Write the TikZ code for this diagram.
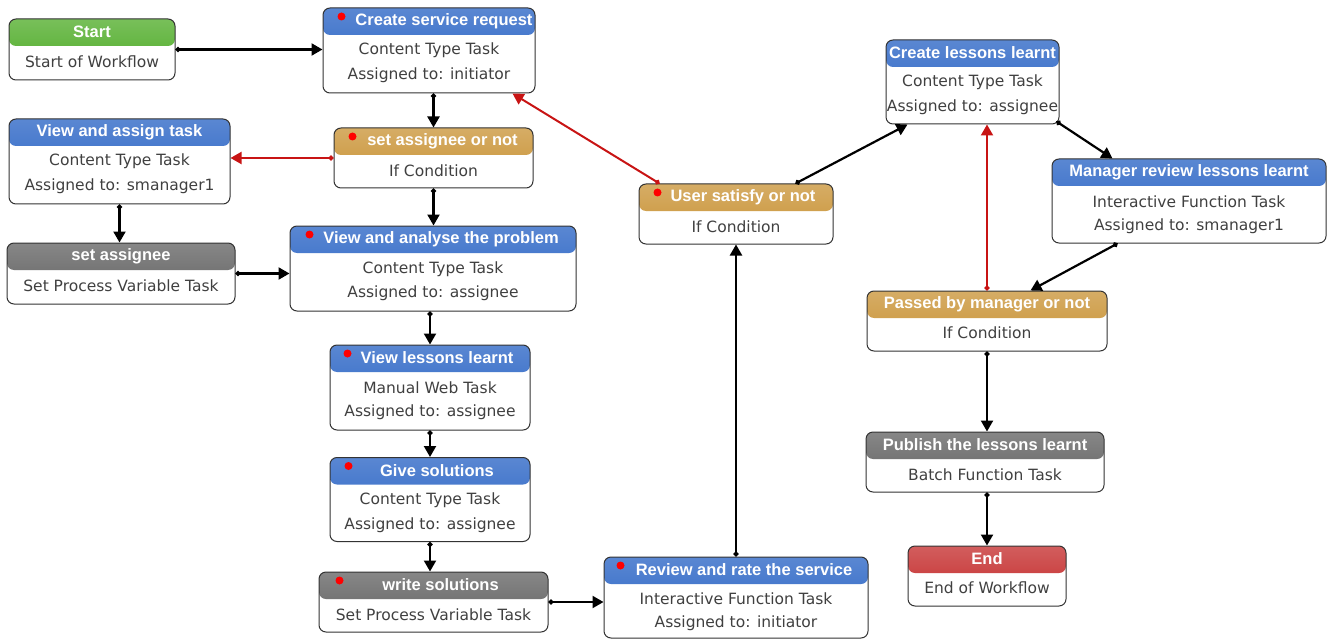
\documentclass[tikz,border=0pt]{standalone}
\usepackage{fontspec}
\setmainfont{DejaVu Sans}
\newfontfamily\headfont{Liberation Sans}
\usetikzlibrary{positioning,arrows.meta}
\definecolor{wfblue}{RGB}{35,95,195}
\definecolor{wfgreen}{RGB}{75,170,35}
\definecolor{wfgold}{RGB}{200,145,50}
\definecolor{wfgray}{RGB}{95,95,95}
\definecolor{wfred}{RGB}{195,40,40}
\definecolor{nolink}{RGB}{200,20,20}

\begin{document}
\begin{tikzpicture}[x=1pt, y=-1pt,
    box/.style={draw=black!80, line width=1pt, rounded corners=7pt, fill=white, inner sep=0pt,
        path picture={\shade[top color=#1!75!white, bottom color=#1]
            (path picture bounding box.north west) rectangle ([yshift=-27pt]path picture bounding box.north east);}},
    ttl/.style={font=\headfont\bfseries\fontsize{16.5}{16.5}\selectfont, text=white, inner sep=0pt},
    txt/.style={font=\fontsize{15.5}{15.5}\selectfont, text=black!75, inner sep=0pt},
    dot/.style={circle, fill=red, inner sep=0pt, minimum size=8pt},
    link/.style={line width=2.2pt, {Circle[length=5pt]}-{Triangle[length=11pt,width=12pt]}},
    redlink/.style={link, line width=2pt, draw=nolink, fill=nolink}]
    \useasboundingbox (0,0) rectangle (1327,639);

    % Left column
    \node[box=wfgreen, minimum width=166pt, minimum height=61pt] (start) at (92,49.5) {};
    \node[ttl] at ([yshift=-13.5pt]start.north) {Start};
    \node[txt] at ([yshift=-43pt]start.north) {Start of Workflow};

    \node[box=wfblue, minimum width=221pt, minimum height=85pt] (vat) at (119.5,161.5) {};
    \node[ttl] at ([yshift=-13.5pt]vat.north) {View and assign task};
    \node[txt] at ([yshift=-43pt]vat.north) {Content Type Task};
    \node[txt] at ([yshift=-68pt]vat.north) {Assigned to: smanager1};

    \node[box=wfgray, minimum width=228pt, minimum height=61pt] (sa) at (121,273.5) {};
    \node[ttl] at ([yshift=-13.5pt]sa.north) {set assignee};
    \node[txt] at ([yshift=-43pt]sa.north) {Set Process Variable Task};

    % Middle column
    \node[box=wfblue, minimum width=212pt, minimum height=85pt] (csr) at (429,50.5) {};
    \node[ttl] at ([xshift=15pt,yshift=-13.5pt]csr.north) {Create service request};
    \node[txt] at ([yshift=-43pt]csr.north) {Content Type Task};
    \node[txt] at ([yshift=-68pt]csr.north) {Assigned to: initiator};
    \node[dot] at ([xshift=19pt,yshift=-9pt]csr.north west) {};

    \node[box=wfgold, minimum width=199pt, minimum height=60pt] (sac) at (433.5,158) {};
    \node[ttl] at ([xshift=9pt,yshift=-13.5pt]sac.north) {set assignee or not};
    \node[txt] at ([yshift=-43pt]sac.north) {If Condition};
    \node[dot] at ([xshift=19pt,yshift=-9pt]sac.north west) {};

    \node[box=wfblue, minimum width=286pt, minimum height=85pt] (vap) at (433,268.5) {};
    \node[ttl] at ([xshift=8pt,yshift=-13.5pt]vap.north) {View and analyse the problem};
    \node[txt] at ([yshift=-43.5pt]vap.north) {Content Type Task};
    \node[txt] at ([yshift=-68pt]vap.north) {Assigned to: assignee};
    \node[dot] at ([xshift=20pt,yshift=-9pt]vap.north west) {};

    \node[box=wfblue, minimum width=200pt, minimum height=85pt] (vll) at (430,387.5) {};
    \node[ttl] at ([xshift=7pt,yshift=-13.5pt]vll.north) {View lessons learnt};
    \node[txt] at ([yshift=-43pt]vll.north) {Manual Web Task};
    \node[txt] at ([yshift=-68pt]vll.north) {Assigned to: assignee};
    \node[dot] at ([xshift=18pt,yshift=-9pt]vll.north west) {};

    \node[box=wfblue, minimum width=200pt, minimum height=84pt] (gs) at (430,499.5) {};
    \node[ttl] at ([xshift=7pt,yshift=-13.5pt]gs.north) {Give solutions};
    \node[txt] at ([yshift=-43pt]gs.north) {Content Type Task};
    \node[txt] at ([yshift=-68pt]gs.north) {Assigned to: assignee};
    \node[dot] at ([xshift=19pt,yshift=-9pt]gs.north west) {};

    \node[box=wfgray, minimum width=229pt, minimum height=60pt] (ws) at (433.5,602) {};
    \node[ttl] at ([xshift=7pt,yshift=-13.5pt]ws.north) {write solutions};
    \node[txt] at ([yshift=-43pt]ws.north) {Set Process Variable Task};
    \node[dot] at ([xshift=21pt,yshift=-9pt]ws.north west) {};

    \node[box=wfblue, minimum width=264pt, minimum height=81pt] (rr) at (736,597.5) {};
    \node[ttl] at ([xshift=8pt,yshift=-13.5pt]rr.north) {Review and rate the service};
    \node[txt] at ([yshift=-42pt]rr.north) {Interactive Function Task};
    \node[txt] at ([yshift=-67pt]rr.north) {Assigned to: initiator};
    \node[dot] at ([xshift=17pt,yshift=-9pt]rr.north west) {};

    \node[box=wfgold, minimum width=194pt, minimum height=60pt] (usn) at (736,214) {};
    \node[ttl] at ([xshift=7pt,yshift=-13.5pt]usn.north) {User satisfy or not};
    \node[txt] at ([yshift=-43pt]usn.north) {If Condition};
    \node[dot] at ([xshift=19pt,yshift=-9pt]usn.north west) {};

    % Right column
    \node[box=wfblue, minimum width=173pt, minimum height=84pt] (cll) at (972.5,82) {};
    \node[ttl] at ([yshift=-13.5pt]cll.north) {Create lessons learnt};
    \node[txt] at ([yshift=-43pt]cll.north) {Content Type Task};
    \node[txt] at ([yshift=-68pt]cll.north) {Assigned to: assignee};

    \node[box=wfblue, minimum width=274pt, minimum height=84pt] (mrl) at (1189,201) {};
    \node[ttl] at ([yshift=-13.5pt]mrl.north) {Manager review lessons learnt};
    \node[txt] at ([yshift=-43pt]mrl.north) {Interactive Function Task};
    \node[txt] at ([yshift=-68pt]mrl.north) {Assigned to: smanager1};

    \node[box=wfgold, minimum width=240pt, minimum height=60pt] (pbm) at (987,321) {};
    \node[ttl] at ([yshift=-13.5pt]pbm.north) {Passed by manager or not};
    \node[txt] at ([yshift=-42pt]pbm.north) {If Condition};

    \node[box=wfgray, minimum width=238pt, minimum height=60pt] (pll) at (985,462) {};
    \node[ttl] at ([yshift=-13.5pt]pll.north) {Publish the lessons learnt};
    \node[txt] at ([yshift=-43pt]pll.north) {Batch Function Task};

    \node[box=wfred, minimum width=158pt, minimum height=60pt] (end) at (987,576) {};
    \node[ttl] at ([yshift=-13.5pt]end.north) {End};
    \node[txt] at ([yshift=-42pt]end.north) {End of Workflow};

    % Draw the connectors
    \draw[link] (start.east) -- (start.east -| csr.west);
    \draw[link] (sac.north |- csr.south) -- (sac.north);
    \draw[redlink] (sac.west) -- (sac.west -| vat.east);
    \draw[link] (vat.south) -- (vat.south |- sa.north);
    \draw[link] (sa.east) -- (sa.east -| vap.west);
    \draw[link] (sac.south) -- (sac.south |- vap.north);
    \draw[link] (vll.north |- vap.south) -- (vll.north);
    \draw[link] (vll.south) -- (gs.north);
    \draw[link] (gs.south) -- (gs.south |- ws.north);
    \draw[link] (ws.east) -- (ws.east -| rr.west);
    \draw[link] (rr.north) -- (usn.south);
    \draw[redlink] ([xshift=21pt]usn.north west) -- ([xshift=-23pt]csr.south east);
    \draw[link] ([xshift=-38pt]usn.north east) -- ([xshift=22pt]cll.south west);
    \draw[link] ([xshift=-3pt,yshift=3pt]cll.south east) -- ([xshift=61pt]mrl.north west);
    \draw[link] ([xshift=66pt]mrl.south west) -- ([xshift=-77pt]pbm.north east);
    \draw[redlink] (pbm.north) -- (pbm.north |- cll.south);
    \draw[link] (pbm.south) -- (pbm.south |- pll.north);
    \draw[link] (end.north |- pll.south) -- (end.north);
\end{tikzpicture}
\end{document}
